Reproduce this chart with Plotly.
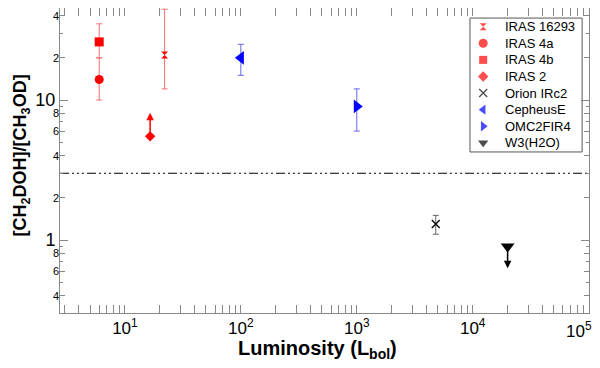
import numpy as np
import plotly.graph_objects as go

# --- data ---
sources = ["IRAS 16293", "IRAS 4a", "IRAS 4b", "IRAS 2", "Orion IRc2",
           "CepheusE", "OMC2FIR4", "W3(H2O)"]
lum = [22, 6, 6, 16.5, 4800, 100, 1000, 20000]
ratio = [21, 14, 26, 5.5, 1.3, 20, 9, 0.9]
err_lo = [12, 10, 20, None, 1.1, 15, 6, None]
err_hi = [44.5, 20, 35, None, 1.5, 25, 12, None]
# limits: source -> arrow end value
limits = {"IRAS 2": 8.1, "W3(H2O)": 0.63}
ref_level = 3.0

symbols = ["hourglass", "circle", "square", "diamond", "x-thin",
           "triangle-left", "triangle-right", "triangle-down"]
colors = ["#ff0000"] * 4 + ["black", "#0000ff", "#0000ff", "black"]
err_colors = ["#f07070"] * 4 + ["#666666", "#6666ee", "#6666ee", "black"]
sizes = [7, 9, 9, 8, 8, 12, 12, 12]
leg_sizes = [7, 9, 8, 8, 8, 9, 9, 9]

FONT = "Liberation Sans"
GREY = "#888888"

fig = go.Figure()

# dash-dot-dot-dot reference line
fig.add_trace(go.Scatter(x=[10**0.44, 1e5], y=[ref_level, ref_level], mode="lines",
                         line=dict(color="black", width=1.2, dash="9px,3px,2px,3px,2px,3px,2px,3px"),
                         showlegend=False, hoverinfo="skip"))

for i, name in enumerate(sources):
    err = None
    if err_lo[i] is not None:
        err = dict(type="data", symmetric=False,
                   array=[err_hi[i] - ratio[i]], arrayminus=[ratio[i] - err_lo[i]],
                   color=err_colors[i], thickness=1, width=3)
    fig.add_trace(go.Scatter(
        x=[lum[i]], y=[ratio[i]], mode="markers", name=name,
        marker=dict(symbol=symbols[i], color=colors[i], size=sizes[i],
                    line=dict(color=colors[i], width=1.3 if symbols[i] == "x-thin" else 0)),
        error_y=err, showlegend=False))

for name, end in limits.items():
    i = sources.index(name)
    fig.add_annotation(x=np.log10(lum[i]), y=np.log10(end), ax=np.log10(lum[i]),
                       ay=np.log10(ratio[i]), xref="x", yref="y", axref="x", ayref="y",
                       text="", showarrow=True, arrowhead=2, arrowsize=1,
                       arrowwidth=1.5, arrowcolor=colors[i])

# --- hand-made legend box (plotly's legend rows are too tall) ---
leg_x0, leg_x1, leg_y0, leg_y1 = 0.775, 0.987, 0.528, 0.967
row_top, row_step = 0.9387, 0.0544
fig.add_shape(type="rect", xref="paper", yref="paper", x0=leg_x0, x1=leg_x1,
              y0=leg_y0, y1=leg_y1, line=dict(color="#555555", width=1),
              fillcolor="white", layer="below")
leg_y = [row_top - row_step * k for k in range(len(sources))]
fig.add_trace(go.Scatter(
    x=[0.80] * len(sources), y=leg_y, xaxis="x3", yaxis="y3", mode="markers",
    marker=dict(symbol=symbols, color=colors, size=leg_sizes,
                line=dict(color=colors, width=[1.3 if s == "x-thin" else 0 for s in symbols])),
    showlegend=False, hoverinfo="skip"))
for k, name in enumerate(sources):
    fig.add_annotation(x=0.838, y=leg_y[k], xref="paper", yref="paper", text=name,
                       showarrow=False, xanchor="left", yanchor="middle",
                       font=dict(size=13, family=FONT, color="black"))

# axis titles as annotations so they sit where the reference has them
fig.add_annotation(x=0.486, y=-0.121, xref="paper", yref="paper", showarrow=False,
                   text="<b>Luminosity (L<sub>bol</sub>)</b>", font=dict(size=20),
                   xanchor="center", yanchor="middle")
fig.add_annotation(x=-0.073, y=0.518, xref="paper", yref="paper", showarrow=False,
                   text="<b>[CH<sub>2</sub>DOH]/[CH<sub>3</sub>OD]</b>", font=dict(size=18),
                   textangle=-90, xanchor="center", yanchor="middle")

axis_common = dict(type="log", showgrid=False, zeroline=False, showline=True,
                   linecolor=GREY, linewidth=1, mirror="allticks", automargin=False,
                   ticks="inside", tickcolor=GREY, tickwidth=1)

x_major = [10, 100, 1000, 1e4, 1e5]
x_text = ["10<sup>1</sup>", "10<sup>2</sup>", "10<sup>3</sup>", "10<sup>4</sup>", "10<sup>5</sup>"]
y_major = [1, 10]
y_minor_lab = [0.4, 0.6, 0.8, 2, 4, 6, 8, 20, 40]
y_minor_txt = ["4", "6", "8", "2", "4", "6", "8", "2", "4"]

# last x label would be clipped at the figure edge: draw it right-anchored instead
fig.add_annotation(x=1.008, y=-0.016, xref="paper", yref="paper", showarrow=False,
                   text=x_text[-1], font=dict(size=17), xanchor="right", yanchor="top",
                   borderpad=0)

# the page body adds an 8px offset, so the figure is 8px smaller than the window
fig.update_layout(
    width=592, height=360,
    margin=dict(l=52, r=11, t=0, b=55),
    paper_bgcolor="white", plot_bgcolor="white",
    font=dict(family=FONT, color="black"),
    xaxis=dict(axis_common, range=[0.44, 5.003], tickvals=x_major,
               ticktext=x_text[:-1] + [""],
               ticklen=8, tickfont=dict(size=17),
               minor=dict(dtick="D1", ticks="inside", ticklen=4, tickcolor=GREY)),
    yaxis=dict(axis_common, range=[-0.521, 1.657], tickvals=y_major,
               ticktext=[str(v) for v in y_major], ticklen=8, tickfont=dict(size=18),
               minor=dict(dtick="D1", ticks="inside", ticklen=3, tickcolor=GREY)),
    yaxis2=dict(axis_common, overlaying="y", side="left", range=[-0.521, 1.657],
                tickvals=y_minor_lab, ticktext=y_minor_txt,
                ticklen=5, tickfont=dict(size=11), showline=False),
    xaxis3=dict(overlaying="x", range=[0, 1], visible=False),
    yaxis3=dict(overlaying="y", range=[0, 1], visible=False),
    showlegend=False,
)

# dummy trace so yaxis2 is drawn
fig.add_trace(go.Scatter(x=[None], y=[None], yaxis="y2", showlegend=False, hoverinfo="skip"))

fig.write_html("out.html")
